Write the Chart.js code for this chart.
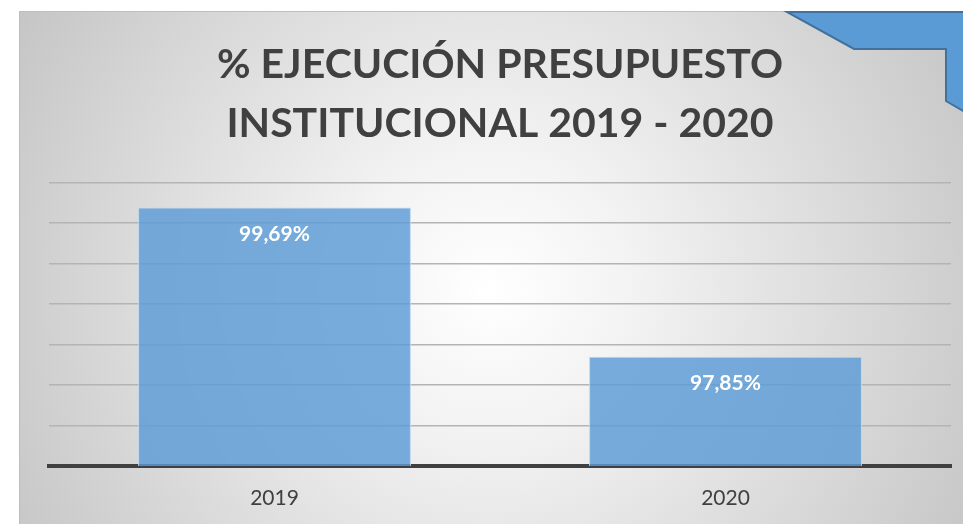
<!DOCTYPE html>
<html>
<head>
<meta charset="utf-8">
<script src="https://cdn.jsdelivr.net/npm/chart.js@4.4.1/dist/chart.umd.min.js"></script>
<style>
html,body{margin:0;padding:0;background:#fff;}
#wrap{width:963px;height:524px;position:relative;}
</style>
</head>
<body>
<div id="wrap"><canvas id="c" width="963" height="524"></canvas></div>
<script>
const categories = ['2019', '2020'];
const values = [99.69, 97.85];
const valueLabels = ['99,69%', '97,85%'];
const titleLines = ['% EJECUCIÓN PRESUPUESTO', 'INSTITUCIONAL 2019 - 2020'];

const panelPlugin = {
  id: 'panel',
  beforeDraw(chart) {
    const ctx = chart.ctx;
    const W = chart.width, H = chart.height;
    ctx.save();
    ctx.fillStyle = '#ffffff';
    ctx.fillRect(0, 0, W, H);
    const x0 = 19, y0 = 11;
    const g = ctx.createRadialGradient(490, 290, 0, 490, 290, 560);
    g.addColorStop(0, '#ffffff');
    g.addColorStop(0.25, '#f3f3f3');
    g.addColorStop(1, '#c4c4c4');
    ctx.fillStyle = g;
    ctx.fillRect(x0, y0, W - x0, H - y0);
    ctx.strokeStyle = '#bdbdbd';
    ctx.lineWidth = 1;
    ctx.beginPath();
    ctx.moveTo(x0 + 0.5, H);
    ctx.lineTo(x0 + 0.5, y0 + 0.5);
    ctx.lineTo(W, y0 + 0.5);
    ctx.stroke();
    // blue corner decoration
    ctx.beginPath();
    ctx.moveTo(787, 12);
    ctx.lineTo(W + 2, 12);
    ctx.lineTo(W + 2, 112);
    ctx.lineTo(946, 101);
    ctx.lineTo(946, 49);
    ctx.lineTo(854, 49);
    ctx.closePath();
    ctx.fillStyle = '#5b9bd5';
    ctx.fill();
    ctx.strokeStyle = '#41719c';
    ctx.lineWidth = 2;
    ctx.stroke();
    ctx.restore();
  }
};

const labelPlugin = {
  id: 'valueLabels',
  afterDatasetsDraw(chart) {
    const ctx = chart.ctx;
    const meta = chart.getDatasetMeta(0);
    ctx.save();
    ctx.fillStyle = '#ffffff';
    ctx.font = 'bold 21px Lato';
    ctx.textAlign = 'center';
    ctx.textBaseline = 'middle';
    meta.data.forEach((bar, i) => {
      ctx.fillText(valueLabels[i], bar.x, bar.y + 27);
    });
    ctx.restore();
  }
};

new Chart(document.getElementById('c'), {
  type: 'bar',
  data: {
    labels: categories,
    datasets: [{
      data: values,
      backgroundColor: 'rgba(91,155,213,0.82)',
      borderColor: '#bdd7ee',
      borderWidth: 1,
      categoryPercentage: 1,
      barPercentage: 0.605
    }]
  },
  options: {
    responsive: false,
    animation: false,
    layout: { padding: { left: 49, right: 12, top: 11, bottom: 0 } },
    plugins: {
      legend: { display: false },
      tooltip: { enabled: false },
      title: {
        display: true,
        text: titleLines,
        color: '#404040',
        font: { family: 'Lato', size: 41, weight: 'bold', lineHeight: 1.42 },
        padding: { top: 25, bottom: 30 }
      }
    },
    scales: {
      x: {
        grid: { display: false, drawTicks: false },
        border: { display: true, color: '#404040', width: 4 },
        ticks: { color: '#404040', font: { family: 'Lato', size: 21 }, padding: 20 },
        afterFit(scale) { scale.height = 58; }
      },
      y: {
        min: 96.5,
        max: 100,
        ticks: { display: false, stepSize: 0.5 },
        grid: { color: '#b4b4b4', lineWidth: 1.4, drawTicks: false },
        border: { display: false }
      }
    }
  },
  plugins: [panelPlugin, labelPlugin]
});
</script>
</body>
</html>
